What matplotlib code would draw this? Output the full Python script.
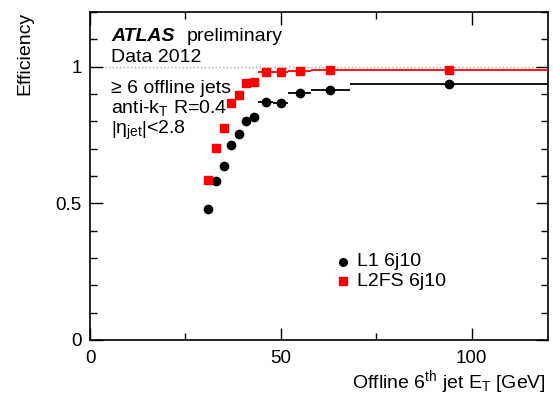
import matplotlib
matplotlib.use("Agg")
import matplotlib.pyplot as plt
import numpy as np

plt.rcParams['font.family'] = ['Liberation Sans', 'DejaVu Sans']
plt.rcParams['mathtext.fontset'] = 'custom'
plt.rcParams['mathtext.rm'] = 'Liberation Sans'
plt.rcParams['mathtext.it'] = 'Liberation Sans:italic'
plt.rcParams['mathtext.sf'] = 'Liberation Sans'

# Bin centres and half-widths (GeV)
x_center = [31, 33, 35, 37, 39, 41, 43, 46, 50, 55, 63, 94]
x_halfw = [1, 1, 1, 1, 1, 1, 1, 2, 2, 3, 5, 26]
# Efficiencies
eff_l1 = [0.478, 0.580, 0.637, 0.715, 0.753, 0.800, 0.817, 0.870, 0.867, 0.903, 0.914, 0.937]
eff_l2fs = [0.587, 0.703, 0.776, 0.866, 0.896, 0.940, 0.943, 0.980, 0.979, 0.983, 0.989, 0.989]
series_labels = ["L1 6j10", "L2FS 6j10"]

W, H = 553, 396
fig = plt.figure(figsize=(W / 100, H / 100), dpi=100)
ax = fig.add_axes([90 / W, 1 - 340 / H, (548 - 90) / W, (340 - 12) / H])

def fx(px):
    return px / W

def fy(py):
    return 1 - py / H

ax.axhline(1.0, color='#aaaaaa', ls=':', lw=1, zorder=1)

ax.errorbar(x_center, eff_l1, xerr=x_halfw, fmt='o', color='black', ms=6,
            elinewidth=1.3, capsize=0, zorder=3)
ax.errorbar(x_center, eff_l2fs, xerr=x_halfw, fmt='s', color='#ff0000', ms=5.8,
            elinewidth=1.3, capsize=0, zorder=4)

ax.set_xlim(0, 120)
ax.set_ylim(0, 1.2)
ax.set_xticks([0, 50, 100])
ax.set_xticklabels(['0', '50', '100'])
ax.set_xticks([25, 75], minor=True)
ax.set_yticks([0, 0.5, 1])
ax.set_yticklabels(['0', '0.5', '1'])
ax.set_yticks(np.arange(0, 1.21, 0.1), minor=True)
ax.tick_params(which='both', direction='in', top=True, right=True, labelsize=13.5, width=1)
ax.tick_params(which='major', length=9)
ax.tick_params(which='minor', length=5)
ax.tick_params(axis='x', pad=7)
ax.tick_params(axis='y', pad=6)
for s in ax.spines.values():
    s.set_linewidth(1.2)

fig.text(fx(29), fy(95), 'Efficiency', rotation=90, ha='left', va='baseline',
         fontsize=14, rotation_mode='anchor')
fig.text(fx(546), fy(388), r'Offline 6$^{\mathrm{th}}$ jet E$_{\mathrm{T}}$ [GeV]',
         ha='right', va='baseline', fontsize=14)

fs = 14
fig.text(fx(111), fy(41), 'ATLAS', fontsize=fs, fontweight='bold', fontstyle='italic', va='baseline')
fig.text(fx(187), fy(41), 'preliminary', fontsize=fs, va='baseline')
fig.text(fx(111), fy(62), 'Data 2012', fontsize=fs, va='baseline')
fig.text(fx(111), fy(93), '≥ 6 offline jets', fontsize=fs, va='baseline')
fig.text(fx(111), fy(113), r'anti-k$_{\mathrm{T}}$ R=0.4', fontsize=fs, va='baseline')
fig.text(fx(111), fy(134), r'$\left|\mathrm{\eta}_{\mathrm{jet}}\right|$<2.8', fontsize=fs, va='baseline')

# legend
fig.lines.append(plt.Line2D([fx(343)], [fy(262)], marker='o', color='black', ms=5.5,
                            transform=fig.transFigure, figure=fig))
fig.lines.append(plt.Line2D([fx(343)], [fy(281)], marker='s', color='#ff0000', ms=5.5,
                            transform=fig.transFigure, figure=fig))
fig.text(fx(357), fy(262), series_labels[0], fontsize=fs, va='center')
fig.text(fx(357), fy(281), series_labels[1], fontsize=fs, va='center')

fig.savefig('out.png', dpi=100)
